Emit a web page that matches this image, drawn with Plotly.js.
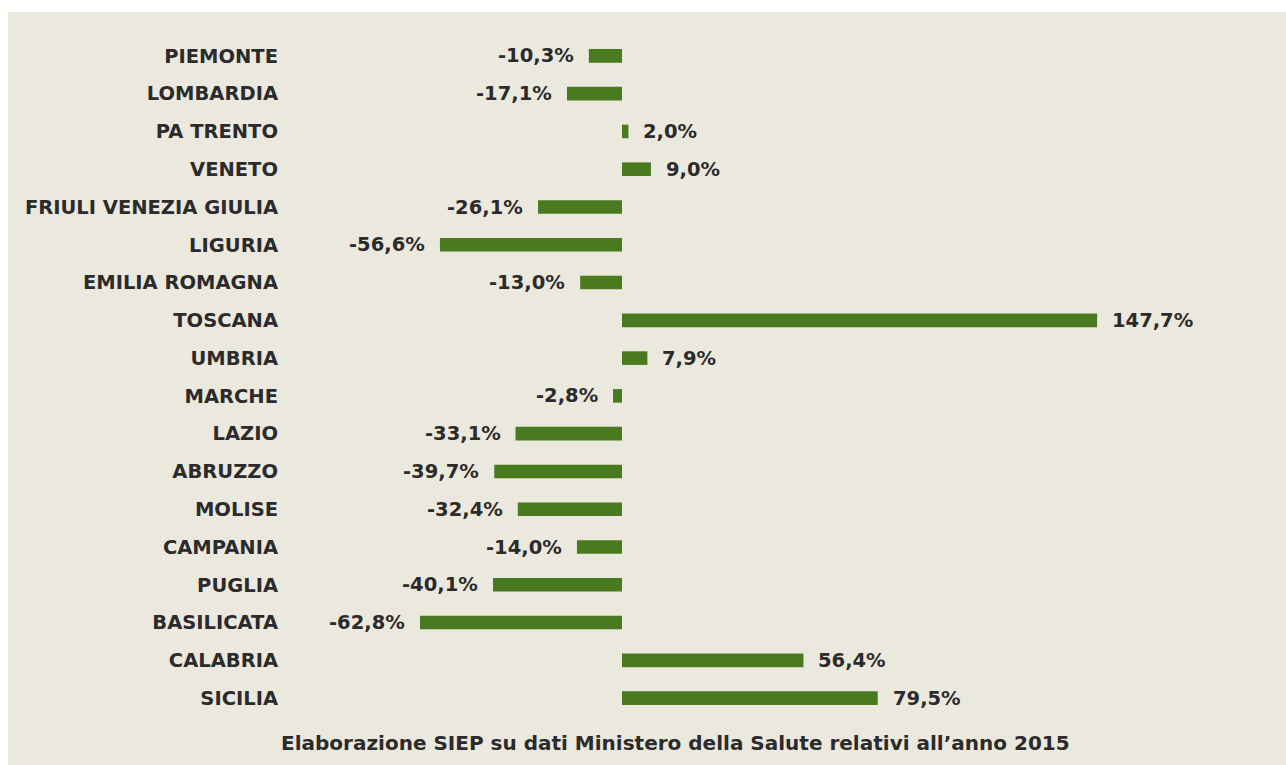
<!DOCTYPE html>
<html>
<head>
<meta charset="utf-8">
<script src="https://cdn.plot.ly/plotly-3.0.1.min.js"></script>
<style>
html,body{margin:0;padding:0;background:#ffffff;}
#chart{position:absolute;left:8px;top:12px;width:1278px;height:753px;}
</style>
</head>
<body>
<div id="chart"></div>
<script>
const categories = ["PIEMONTE","LOMBARDIA","PA TRENTO","VENETO","FRIULI VENEZIA GIULIA","LIGURIA","EMILIA ROMAGNA","TOSCANA","UMBRIA","MARCHE","LAZIO","ABRUZZO","MOLISE","CAMPANIA","PUGLIA","BASILICATA","CALABRIA","SICILIA"];
const values = [-10.3,-17.1,2.0,9.0,-26.1,-56.6,-13.0,147.7,7.9,-2.8,-33.1,-39.7,-32.4,-14.0,-40.1,-62.8,56.4,79.5];
const valueLabels = ["-10,3%","-17,1%","2,0%","9,0%","-26,1%","-56,6%","-13,0%","147,7%","7,9%","-2,8%","-33,1%","-39,7%","-32,4%","-14,0%","-40,1%","-62,8%","56,4%","79,5%"];
const sourceNote = "Elaborazione SIEP su dati Ministero della Salute relativi all\u2019anno 2015";

const FONT = "DejaVu Sans, Verdana, sans-serif";
const TXT = "#2b2b2b";

const annotations = values.map((v, i) => ({
  x: v, y: categories[i], xref: "x", yref: "y",
  text: "<b>" + valueLabels[i] + "</b>",
  showarrow: false,
  xanchor: v < 0 ? "right" : "left",
  xshift: v < 0 ? -13 : 13,
  font: {family: FONT, size: 19.5, color: TXT}
}));
annotations.push({
  x: 0.389, y: 0, xref: "paper", yref: "paper",
  yanchor: "top", xanchor: "center", yshift: -12,
  showarrow: false,
  text: "<b>" + sourceNote + "</b>",
  font: {family: FONT, size: 20, color: TXT}
});

const trace = {
  type: "bar", orientation: "h",
  x: values, y: categories,
  marker: {color: "#4a7a1f"},
  width: 0.36,
  hoverinfo: "skip"
};

const layout = {
  width: 1278, height: 753,
  margin: {l: 292, r: 20, t: 25, b: 48},
  paper_bgcolor: "#ebe8de",
  plot_bgcolor: "#ebe8de",
  showlegend: false,
  xaxis: {range: [-100.1, 200.2], showgrid: false, zeroline: false, showticklabels: false, ticks: "", fixedrange: true},
  yaxis: {type: "category", autorange: "reversed", showgrid: false, zeroline: false, ticks: "", ticklabelstandoff: 21,
          tickfont: {family: FONT, size: 19.5, color: TXT, weight: "bold"}, fixedrange: true},
  annotations: annotations
};

Plotly.newPlot("chart", [trace], layout, {staticPlot: true, displayModeBar: false});
</script>
</body>
</html>
